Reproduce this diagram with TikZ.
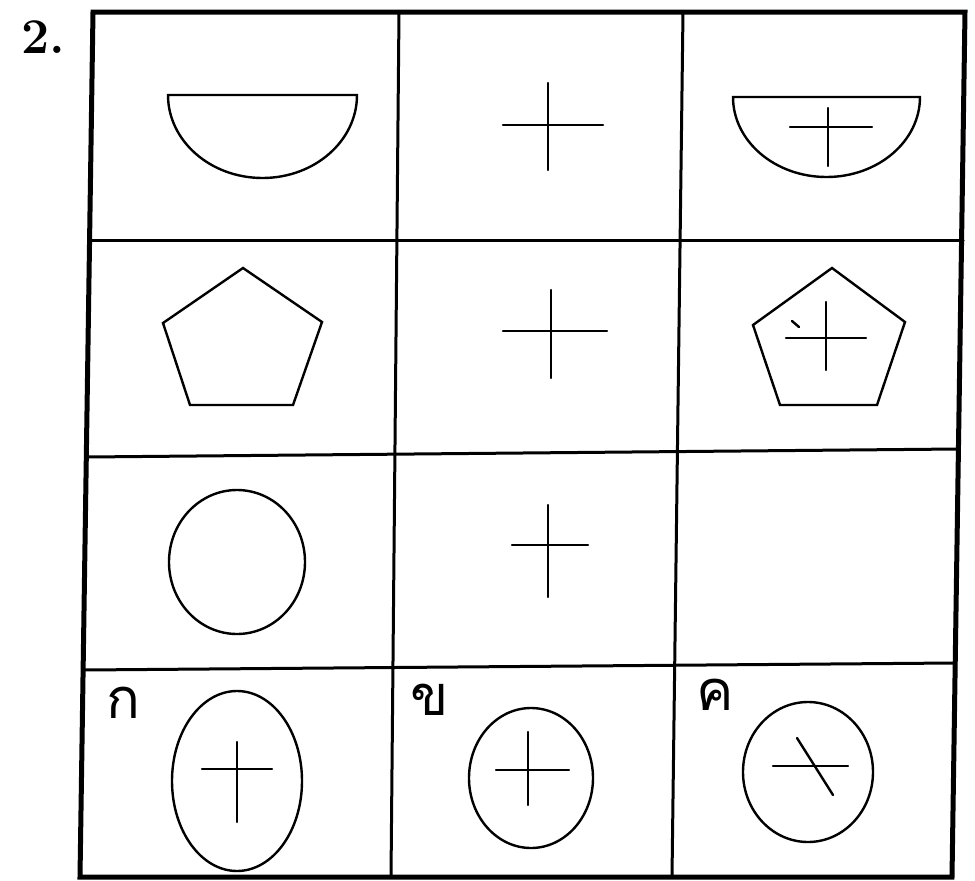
\documentclass[tikz,border=0pt]{standalone}
\usepackage{fontspec}
\newfontfamily\thaifont[Script=Thai]{Loma}
\begin{document}
\begin{tikzpicture}[x=1pt,y=-1pt,line cap=round,
  frameline/.style={line width=5pt},
  gridline/.style={line width=3pt},
  figline/.style={line width=2.4pt},
  thailbl/.style={inner sep=0pt,anchor=base west,font=\thaifont\fontsize{56}{56}\selectfont}]
	\useasboundingbox (0,0) rectangle (975,881);
	%numero
	\node[inner sep=0pt,anchor=base west,font=\bfseries\fontsize{50}{50}\selectfont] (num) at (21,53) {2.};

	%cornice e griglia
	\draw[frameline] (93,12) -- (965,12) -- (952,877) -- (80,877) -- cycle;
	\draw[gridline] (399,12) -- (391,877);
	\draw[gridline] (683,12) -- (672,877);
	\draw[gridline] (92,240) -- (963,240);
	\draw[gridline] (87,457) -- (958,449);
	\draw[gridline] (84,670) -- (954,663);

	%riga 1
	\draw[figline] (168,95) arc[start angle=180, end angle=360, x radius=94.5pt, y radius=83pt] -- cycle;
	\draw[figline] (503,125) -- (603,125);
	\draw[figline] (548,83) -- (548,170);
	\draw[figline] (733,97) arc[start angle=180, end angle=360, x radius=93.5pt, y radius=80pt] -- cycle;
	\draw[figline] (790,127) -- (872,127);
	\draw[figline] (828,108) -- (828,166);

	%riga 2
	\draw[figline] (243,268) -- (322,322) -- (293,405) -- (190,405) -- (163,323) -- cycle;
	\draw[figline] (503,331) -- (607,331);
	\draw[figline] (551,290) -- (551,378);
	\draw[figline] (832,268) -- (905,322) -- (877,405) -- (780,405) -- (753,325) -- cycle;
	\draw[figline] (786,338) -- (866,338);
	\draw[figline] (826,302) -- (826,370);
	\draw[figline] (792,321) -- (799,327);

	%riga 3
	\draw[figline] (237,562) ellipse [x radius=68pt, y radius=72pt];
	\draw[figline] (512,545) -- (588,545);
	\draw[figline] (548,505) -- (548,597);

	%riga 4: risposte
	\node[thailbl] (ansA) at (106,718) {ก};
	\draw[figline] (237,781) ellipse [x radius=65pt, y radius=90pt];
	\draw[figline] (202,769) -- (272,769);
	\draw[figline] (237,742) -- (237,822);

	\node[thailbl] (ansB) at (410,715) {ข};
	\draw[figline] (531,778) ellipse [x radius=62pt, y radius=70pt];
	\draw[figline] (496,770) -- (569,770);
	\draw[figline] (528,732) -- (528,805);

	\node[thailbl] (ansC) at (696,710) {ค};
	\draw[figline] (808,772) ellipse [x radius=65pt, y radius=70pt];
	\draw[figline] (773,766) -- (848,766);
	\draw[figline] (797,738) -- (833,795);
\end{tikzpicture}
\end{document}
